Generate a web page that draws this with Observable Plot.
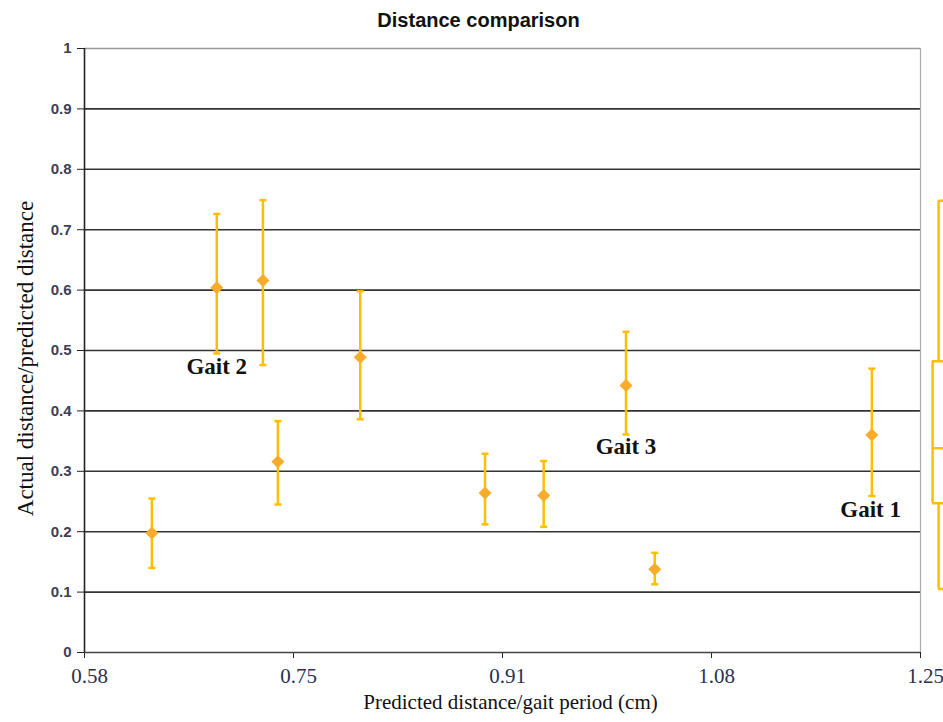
<!DOCTYPE html>
<html>
<head>
<meta charset="utf-8">
<script src="https://cdn.jsdelivr.net/npm/d3@7"></script>
<script src="https://cdn.jsdelivr.net/npm/@observablehq/plot@0.6"></script>
<style>
  html, body { margin: 0; padding: 0; background: #fff; }
  #chart svg { display: block; }
</style>
</head>
<body>
<div id="chart"></div>
<script>
// ---- data ----
const predicted = [0.634, 0.686, 0.723, 0.735, 0.801, 0.901, 0.948, 1.014, 1.037, 1.211];
const ratio     = [0.198, 0.604, 0.616, 0.316, 0.489, 0.264, 0.260, 0.442, 0.138, 0.360];
const errHigh   = [0.255, 0.726, 0.749, 0.383, 0.598, 0.329, 0.317, 0.531, 0.165, 0.470];
const errLow    = [0.140, 0.495, 0.476, 0.245, 0.386, 0.212, 0.208, 0.361, 0.113, 0.259];

const gaitNames = ["Gait 2", "Gait 3", "Gait 1"];
const gaitX     = [0.686, 1.014, 1.210];
const gaitY     = [0.474, 0.341, 0.237];

const xTicks      = [0.58, 0.7475, 0.915, 1.0825, 1.25];
const xTickLabels = ["0.58", "0.75", "0.91", "1.08", "1.25"];
const yTicks      = [0, 0.1, 0.2, 0.3, 0.4, 0.5, 0.6, 0.7, 0.8, 0.9, 1];
const yTickLabels = ["0", "0.1", "0.2", "0.3", "0.4", "0.5", "0.6", "0.7", "0.8", "0.9", "1"];

// partially visible box-like glyph from a neighbouring panel (cut off at right edge)
const sideWhiskerX = [1.2645];
const sideBoxLeft  = [1.2597];
const sideStats    = {hi: 0.748, q3: 0.482, med: 0.338, q1: 0.247, lo: 0.105};
const sideEdge     = 1.30;

const points = predicted.map((x, i) => ({x, y: ratio[i], hi: errHigh[i], lo: errLow[i]}));
const gaits = gaitNames.map((name, i) => ({name, x: gaitX[i], y: gaitY[i]}));

const barColor = "#FFBF00";
const dotColor = "#F9AC2A";

const capSymbol = {
  draw(ctx, size) {
    const r = Math.sqrt(size / Math.PI);
    ctx.moveTo(-r, 0); ctx.lineTo(r, 0);
  }
};
const diamondSymbol = {
  draw(ctx, size) {
    const r = Math.sqrt(size / Math.PI);
    ctx.moveTo(0, -r); ctx.lineTo(r, 0); ctx.lineTo(0, r); ctx.lineTo(-r, 0); ctx.closePath();
  }
};

const serif = "'Liberation Serif', 'Times New Roman', serif";
const sans = "'Liberation Sans', Arial, sans-serif";

const chart = Plot.plot({
  width: 943,
  height: 722,
  marginLeft: 84,
  marginRight: 23,
  marginTop: 48,
  marginBottom: 70,
  x: {domain: [0.58, 1.25]},
  y: {domain: [0, 1]},
  marks: [
    // grid lines
    Plot.ruleY(yTicks.slice(1, 10), {stroke: "#333", strokeWidth: 1.6}),
    Plot.ruleY([1], {stroke: "#999", strokeWidth: 1.5}),
    Plot.ruleX([1.25], {stroke: "#aaa", strokeWidth: 1.2}),
    // axis ticks (labels drawn separately)
    Plot.axisY({ticks: yTicks, tickFormat: () => "", tickSize: 7, stroke: "#222", label: null}),
    Plot.axisX({ticks: xTicks, tickFormat: () => "", tickSize: 6, stroke: "#222", label: null}),
    Plot.text(yTicks, {
      y: d => d, text: (d, i) => yTickLabels[i], frameAnchor: "left", textAnchor: "end", dx: -13,
      fontFamily: sans, fontSize: 15, fontWeight: "bold", fill: "#3a4058"
    }),
    Plot.text(xTicks, {
      x: d => d, text: (d, i) => xTickLabels[i], frameAnchor: "bottom", lineAnchor: "middle", dx: 5, dy: 24,
      fontFamily: serif, fontSize: 21, fill: "#2a3050"
    }),
    Plot.ruleX([0.58], {stroke: "#222", strokeWidth: 1.6}),
    Plot.ruleY([0], {stroke: "#444", strokeWidth: 1.6}),
    // error bars
    Plot.ruleX(points, {x: "x", y1: "lo", y2: "hi", stroke: barColor, strokeWidth: 2.5}),
    Plot.dot(points, {x: "x", y: "hi", symbol: capSymbol, r: 3.5, stroke: barColor, strokeWidth: 2.5, fill: "none"}),
    Plot.dot(points, {x: "x", y: "lo", symbol: capSymbol, r: 3.5, stroke: barColor, strokeWidth: 2.5, fill: "none"}),
    // markers
    Plot.dot(points, {x: "x", y: "y", symbol: diamondSymbol, r: 6.5, fill: dotColor, stroke: "none"}),
    // side glyph
    Plot.ruleX(sideWhiskerX, {x: d => d, y1: sideStats.q3, y2: sideStats.hi, stroke: barColor, strokeWidth: 2.5}),
    Plot.ruleX(sideWhiskerX, {x: d => d, y1: sideStats.lo, y2: sideStats.q1, stroke: barColor, strokeWidth: 2.5}),
    Plot.ruleY([sideStats.hi, sideStats.lo], {x1: sideWhiskerX[0], x2: sideEdge, stroke: barColor, strokeWidth: 2.5}),
    Plot.ruleX(sideBoxLeft, {x: d => d, y1: sideStats.q1, y2: sideStats.q3, stroke: barColor, strokeWidth: 2.5}),
    Plot.ruleY([sideStats.q3, sideStats.med, sideStats.q1], {x1: sideBoxLeft[0], x2: sideEdge, stroke: barColor, strokeWidth: 2.5}),
    // gait labels
    Plot.text(gaits, {x: "x", y: "y", text: "name", fontFamily: serif, fontWeight: "bold", fontSize: 23, fill: "#111"}),
    // title and axis labels
    Plot.text(["Distance comparison"], {frameAnchor: "top", lineAnchor: "middle", dx: -24, dy: -28, fontFamily: sans, fontWeight: "bold", fontSize: 20, fill: "#111"}),
    Plot.text(["Predicted distance/gait period (cm)"], {frameAnchor: "bottom", lineAnchor: "middle", dx: 8, dy: 50, fontFamily: serif, fontSize: 21, fill: "#111"}),
    Plot.text(["Actual distance/predicted distance"], {frameAnchor: "left", textAnchor: "middle", lineAnchor: "middle", dx: -59, dy: 8, rotate: -90, fontFamily: serif, fontSize: 23, fill: "#111"})
  ]
});
document.getElementById("chart").appendChild(chart);
</script>
</body>
</html>
